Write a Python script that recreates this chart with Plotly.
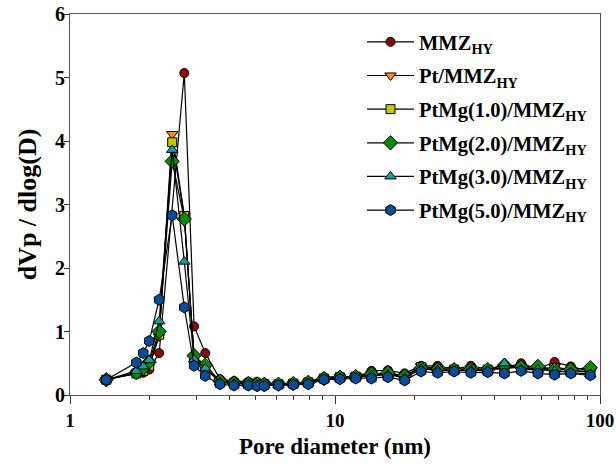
import plotly.graph_objects as go

# Pore diameter (nm)
diam = [1.37, 1.78, 1.89, 1.99, 2.17, 2.43, 2.70, 2.94, 3.24, 3.68, 4.16, 4.71, 5.08, 5.41,
        6.12, 6.96, 7.93, 9.08, 10.43, 11.97, 13.73, 15.83, 18.31, 21.12, 24.39, 28.16,
        32.56, 37.69, 43.6, 50.4, 58.3, 67.4, 77.6, 91.9]

mmz = [0.25, 0.33, 0.35, 0.40, 0.66, None, 5.07, 1.08, 0.66, 0.25, 0.22, 0.21, 0.21, 0.19,
       0.18, 0.18, 0.21, 0.28, 0.29, 0.28, 0.38, 0.39, 0.34, 0.46, 0.46, 0.41, 0.46, 0.41,
       0.43, 0.50, 0.41, 0.52, 0.45, 0.37]
pt = [0.24, 0.35, 0.38, 0.45, 0.92, 4.11, 2.82, 0.60, 0.42, 0.22, 0.19, 0.18, 0.17, 0.17,
      0.17, 0.18, 0.20, 0.26, 0.28, 0.30, 0.33, 0.34, 0.30, 0.45, 0.42, 0.40, 0.42, 0.40,
      0.42, 0.45, 0.40, 0.44, 0.40, 0.36]
ptmg10 = [0.24, 0.34, 0.38, 0.46, 0.95, 3.98, 2.82, 0.58, 0.43, 0.21, 0.19, 0.18, 0.17, 0.17,
          0.17, 0.18, 0.20, 0.26, 0.28, 0.29, 0.32, 0.33, 0.29, 0.44, 0.41, 0.40, 0.41, 0.40,
          0.42, 0.44, 0.40, 0.42, 0.39, 0.35]
ptmg20 = [0.24, 0.35, 0.42, 0.52, 1.00, 3.68, 2.77, 0.62, 0.47, 0.22, 0.19, 0.18, 0.17, 0.17,
          0.17, 0.18, 0.20, 0.26, 0.28, 0.29, 0.33, 0.35, 0.30, 0.42, 0.40, 0.40, 0.40, 0.40,
          0.47, 0.44, 0.45, 0.40, 0.40, 0.43]
ptmg30 = [0.24, 0.38, 0.45, 0.55, 1.16, 3.86, 2.10, 0.56, 0.42, 0.20, 0.18, 0.17, 0.16, 0.16,
          0.16, 0.17, 0.19, 0.25, 0.27, 0.28, 0.31, 0.32, 0.27, 0.41, 0.39, 0.38, 0.39, 0.38,
          0.50, 0.40, 0.40, 0.38, 0.36, 0.33]
ptmg50 = [0.24, 0.51, 0.66, 0.85, 1.50, 2.83, 1.38, 0.46, 0.30, 0.17, 0.15, 0.15, 0.14, 0.14,
          0.15, 0.16, 0.17, 0.24, 0.25, 0.26, 0.26, 0.28, 0.23, 0.37, 0.35, 0.37, 0.35, 0.36,
          0.34, 0.38, 0.34, 0.32, 0.34, 0.31]

names = ["MMZ<sub>HY</sub>", "Pt/MMZ<sub>HY</sub>", "PtMg(1.0)/MMZ<sub>HY</sub>",
         "PtMg(2.0)/MMZ<sub>HY</sub>", "PtMg(3.0)/MMZ<sub>HY</sub>", "PtMg(5.0)/MMZ<sub>HY</sub>"]
series = [mmz, pt, ptmg10, ptmg20, ptmg30, ptmg50]
colors = ["#8B0A0A", "#FF8C1A", "#C8C800", "#0A8A0A", "#12A0A0", "#0A4C96"]
symbols = ["circle", "triangle-down", "square", "diamond", "triangle-up", "hexagon"]
sizes = [9, 10, 9, 11, 10, 11]

FONT = "Liberation Serif"

fig = go.Figure()
for i, (nm, ys) in enumerate(zip(names, series)):
    fig.add_trace(go.Scatter(
        x=diam, y=ys, name=nm, mode="lines+markers", connectgaps=True,
        legendgroup=f"g{i}",
        line=dict(color="black", width=1.2),
        marker=dict(symbol=symbols[i], size=sizes[i], color=colors[i],
                    line=dict(color="black", width=1)),
    ))

minor_vals = [2, 3, 4, 5, 6, 7, 8, 9, 20, 30, 40, 50, 60, 70, 80, 90]

fig.update_layout(
    width=616, height=466,
    margin=dict(l=70, r=16, t=14, b=71),
    paper_bgcolor="white", plot_bgcolor="white",
    font=dict(family=FONT, color="black", size=16, weight="bold"),
    showlegend=True,
    legend=dict(x=(362 - 70) / 530, y=1 - (22 - 14) / 381, xanchor="left", yanchor="top",
                font=dict(family=FONT, size=20.5, weight="bold"),
                itemwidth=47, tracegroupgap=4, bgcolor="rgba(0,0,0,0)"),
    xaxis=dict(type="log", range=[0, 2], tickmode="array", tickvals=[1, 10, 100],
               ticktext=["1", "10", "100"], ticks="outside", ticklen=8, tickwidth=1,
               tickcolor="#333", showline=True, linecolor="#555", linewidth=1, mirror=True,
               showgrid=False, zeroline=False, automargin=False,
               tickfont=dict(family=FONT, size=19, weight="bold"),
               minor=dict(tickmode="array", tickvals=minor_vals, ticks="outside",
                          ticklen=4, tickcolor="#333", showgrid=False),
               title=dict(text="Pore diameter (nm)", font=dict(family=FONT, size=23, weight="bold"),
                          standoff=8)),
    yaxis=dict(range=[0, 6], tickmode="array", tickvals=[0, 1, 2, 3, 4, 5, 6],
               ticks="outside", ticklen=5, tickwidth=1, tickcolor="#333",
               showline=True, linecolor="#555", linewidth=1, mirror=True,
               showgrid=False, zeroline=False, automargin=False,
               ticklabelstandoff=-5,
               tickfont=dict(family=FONT, size=20, weight="bold"),
               title=dict(text="dVp / dlog(D)", font=dict(family=FONT, size=26, weight="bold"),
                          standoff=10)),
)

fig.write_html("out.html")
